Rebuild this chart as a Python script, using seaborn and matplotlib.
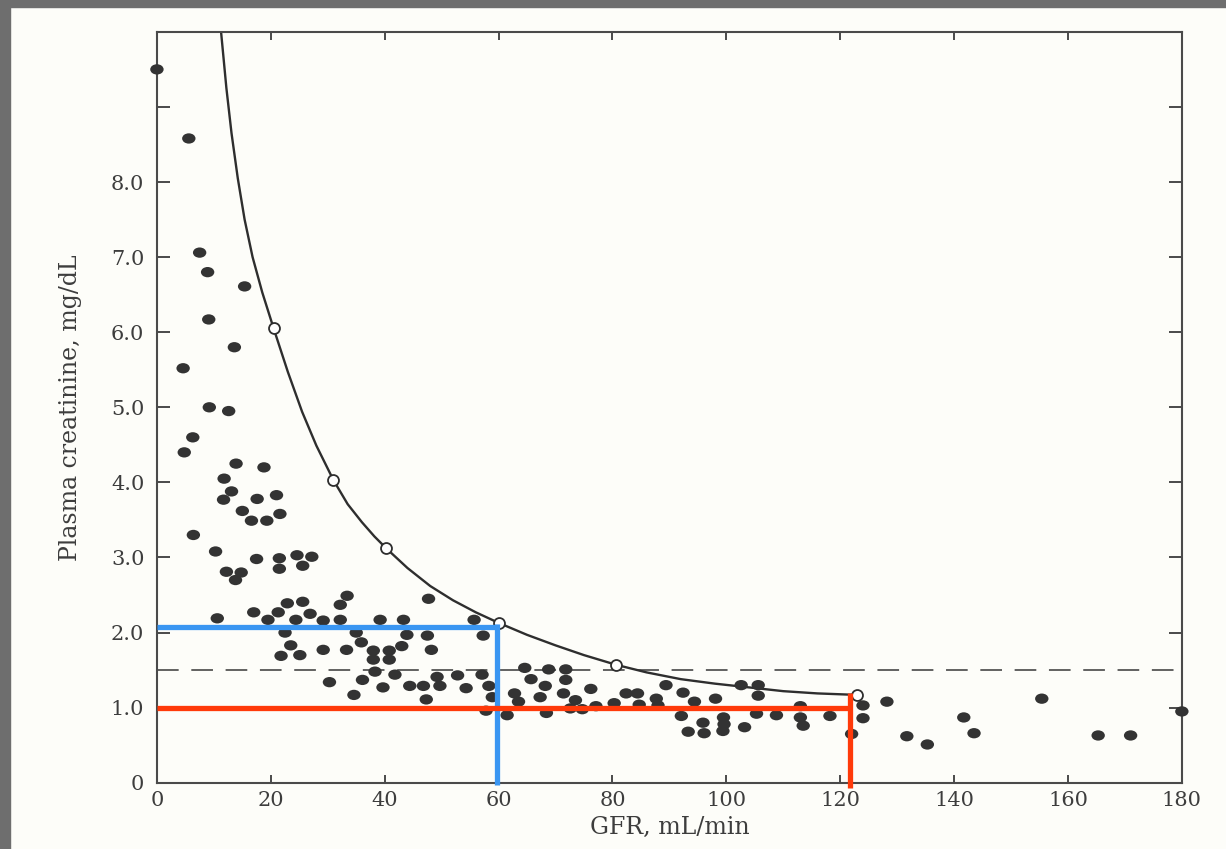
import numpy as np
import matplotlib
matplotlib.use("Agg")
import matplotlib.pyplot as plt
from matplotlib.markers import MarkerStyle
from matplotlib.transforms import Affine2D
from matplotlib.patches import Rectangle
import seaborn as sns

# Individual patients: glomerular filtration rate vs plasma creatinine
gfr = [0.0, 4.6, 4.8, 5.6, 6.3, 6.4, 7.5, 8.9, 9.1, 9.2, 10.3, 10.6, 11.7, 11.8,
       12.2, 12.6, 13.1, 13.6, 13.8, 13.9, 14.8, 15.0, 15.4, 16.6, 17.0, 17.5,
       17.6, 18.8, 19.3, 19.5, 21.0, 21.3, 21.5, 21.5, 21.6, 21.8, 22.5, 22.9,
       23.5, 24.4, 24.6, 25.1, 25.6, 25.6, 26.9, 27.2, 29.2, 29.2, 30.3, 32.2,
       32.2, 33.3, 33.4, 34.6, 35.0, 35.9, 36.1, 38.0, 38.0, 38.3, 39.2, 39.7,
       40.8, 40.8, 41.8, 43.0, 43.3, 43.9, 44.4, 46.8, 47.3, 47.5, 47.7, 48.2,
       49.2, 49.7, 52.8, 54.3, 55.7, 57.1, 57.3, 57.8, 58.3, 58.9, 61.5, 62.8,
       63.5, 64.6, 65.7, 67.3, 68.2, 68.4, 68.8, 71.4, 71.8, 71.8, 72.6, 73.5,
       74.7, 76.2, 77.1, 80.3, 82.4, 84.4, 84.7, 87.7, 88.0, 89.4, 92.1, 92.4,
       93.3, 94.4, 95.9, 96.1, 98.1, 99.5, 99.6, 99.4, 102.6, 103.2, 105.3,
       105.6, 105.6, 108.8, 113.0, 113.0, 113.5, 118.2, 122.0, 124.0, 124.0,
       128.2, 131.7, 135.3, 141.7, 143.5, 155.4, 165.3, 171.0, 180.0]
creatinine = [9.5, 5.52, 4.4, 8.58, 4.6, 3.3, 7.06, 6.8, 6.17, 5.0, 3.08, 2.19,
              3.77, 4.05, 2.81, 4.95, 3.88, 5.8, 2.7, 4.25, 2.8, 3.62, 6.61,
              3.49, 2.27, 2.98, 3.78, 4.2, 3.49, 2.17, 3.83, 2.27, 2.99, 2.85,
              3.58, 1.69, 2.0, 2.39, 1.83, 2.17, 3.03, 1.7, 2.41, 2.89, 2.25,
              3.01, 2.16, 1.77, 1.34, 2.37, 2.17, 1.77, 2.49, 1.17, 2.0, 1.87,
              1.37, 1.76, 1.64, 1.48, 2.17, 1.27, 1.76, 1.64, 1.44, 1.82, 2.17,
              1.97, 1.29, 1.29, 1.11, 1.96, 2.45, 1.77, 1.41, 1.29, 1.43, 1.26,
              2.17, 1.44, 1.96, 0.96, 1.29, 1.14, 0.9, 1.19, 1.08, 1.53, 1.38,
              1.14, 1.29, 0.93, 1.51, 1.19, 1.51, 1.37, 0.99, 1.1, 0.98, 1.25,
              1.02, 1.06, 1.19, 1.19, 1.04, 1.12, 1.03, 1.3, 0.89, 1.2, 0.68,
              1.08, 0.8, 0.66, 1.12, 0.87, 0.78, 0.69, 1.3, 0.74, 0.92, 1.3,
              1.16, 0.9, 1.02, 0.87, 0.76, 0.89, 0.65, 1.03, 0.86, 1.08, 0.62,
              0.51, 0.87, 0.66, 1.12, 0.63, 0.63, 0.95]

# Theoretical GFR-creatinine relation
curve_gfr = [11.2, 12.2, 13.1, 14.2, 15.4, 16.8, 18.5, 20.5, 23.0, 25.5, 28.0,
             31.0, 33.5, 36.0, 38.2, 40.3, 44.0, 48.0, 52.0, 56.0, 60.0, 65.0,
             70.0, 75.0, 80.7, 86.0, 92.0, 98.0, 104.0, 110.0, 116.0, 123.0]
curve_creat = [10.05, 9.25, 8.65, 8.05, 7.5, 7.0, 6.53, 6.05, 5.47, 4.94, 4.49,
               4.03, 3.71, 3.47, 3.28, 3.12, 2.86, 2.62, 2.43, 2.27, 2.13, 1.97,
               1.83, 1.70, 1.57, 1.47, 1.38, 1.32, 1.27, 1.22, 1.19, 1.17]
ref_gfr = [20.5, 31.0, 40.3, 60.0, 80.7, 123.0]
ref_creat = [6.05, 4.03, 3.12, 2.13, 1.57, 1.17]

upper_normal = 1.5

x_ticks = [0, 20, 40, 60, 80, 100, 120, 140, 160, 180]
x_tick_labels = ["0", "20", "40", "60", "80", "100", "120", "140", "160", "180"]
y_ticks = [0, 1, 2, 3, 4, 5, 6, 7, 8, 9]
y_tick_labels = ["0", "1.0", "2.0", "3.0", "4.0", "5.0", "6.0", "7.0", "8.0", ""]

# Highlighted readings
blue_gfr, blue_creat = 59.7, 2.08
red_gfr, red_creat, red_top = 121.7, 1.0, 1.2

sns.set_style("ticks")
plt.rcParams["font.family"] = ["DejaVu Serif"]

paper = "#fdfdf9"
ink = "#3d3d3d"

fig = plt.figure(figsize=(12.26, 8.49), dpi=100, facecolor=paper)
ax = fig.add_axes([0.128, 0.078, 0.836, 0.8845])
ax.set_facecolor(paper)

# scanned page edges
fig.patches.append(Rectangle((0, 1 - 7 / 849), 1, 7 / 849, transform=fig.transFigure,
                             color="#6e6e6e", zorder=0))
fig.patches.append(Rectangle((0, 0), 10 / 1226, 1, transform=fig.transFigure,
                             color="#6e6e6e", zorder=0))

# upper limit of normal creatinine
ax.axhline(upper_normal, color="#555555", lw=1.3, dashes=(12, 7), zorder=1)

# theoretical curve with reference points
sns.lineplot(x=curve_gfr, y=curve_creat, sort=False, estimator=None, ax=ax,
             color="#2e2e2e", lw=1.7, zorder=2)
sns.scatterplot(x=ref_gfr, y=ref_creat, ax=ax, marker="o", s=62,
                facecolor="white", edgecolor="#2e2e2e", linewidth=1.3, zorder=4)

# patient data as slightly flattened dots
dot = MarkerStyle("o", transform=Affine2D().scale(1.3, 1.0))
sns.scatterplot(x=gfr, y=creatinine, ax=ax, marker=dot, s=55, color="#333333",
                edgecolor="none", linewidth=0, zorder=3, clip_on=False)

# highlighted guide lines
ax.plot([0, blue_gfr + 0.4], [blue_creat, blue_creat], color="#3a96f2", lw=3.8,
        solid_capstyle="butt", zorder=5, clip_on=False)
ax.plot([blue_gfr, blue_gfr], [blue_creat + 0.03, -0.03], color="#3a96f2", lw=3.8,
        solid_capstyle="butt", zorder=5, clip_on=False)
ax.plot([0, red_gfr + 0.4], [red_creat, red_creat], color="#ff3a0a", lw=3.8,
        solid_capstyle="butt", zorder=6, clip_on=False)
ax.plot([red_gfr, red_gfr], [red_top, -0.07], color="#ff3a0a", lw=3.8,
        solid_capstyle="butt", zorder=6, clip_on=False)

ax.set_xlim(0, 180)
ax.set_ylim(0, 10)
ax.set_xticks(x_ticks)
ax.set_xticklabels(x_tick_labels)
ax.set_yticks(y_ticks)
ax.set_yticklabels(y_tick_labels)

for side in ["left", "right", "top", "bottom"]:
    ax.spines[side].set_color("#4a4a4a")
    ax.spines[side].set_linewidth(1.5)

ax.tick_params(axis="both", direction="in", top=True, right=True,
               color="#4a4a4a", labelcolor=ink, labelsize=15, width=1.4)
ax.tick_params(axis="y", length=9.5, pad=9)
ax.tick_params(axis="x", length=6, pad=6)

ax.set_xlabel("GFR, mL/min", fontsize=17, color=ink, labelpad=4)
ax.set_ylabel("Plasma creatinine, mg/dL", fontsize=17, color=ink, labelpad=21)

fig.savefig("out.png", dpi=100, facecolor=paper)
